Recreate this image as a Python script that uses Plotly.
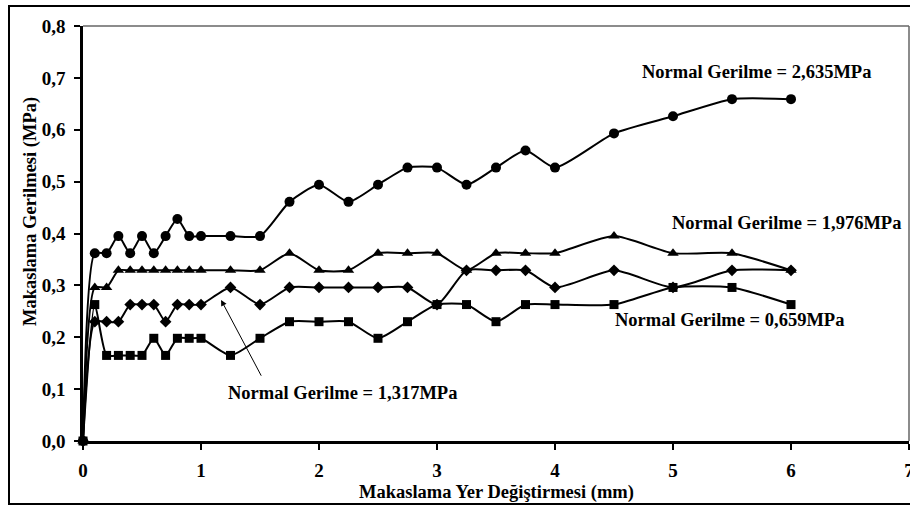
import plotly.graph_objects as go

# Shear displacement (mm) shared by every test
displacement = [0, 0.1, 0.2, 0.3, 0.4, 0.5, 0.6, 0.7, 0.8, 0.9, 1.0, 1.25, 1.5,
                1.75, 2.0, 2.25, 2.5, 2.75, 3.0, 3.25, 3.5, 3.75, 4.0, 4.5, 5.0, 5.5, 6.0]

# Shear stress (MPa) for each normal stress level
shear_2635 = [0, 0.362, 0.362, 0.395, 0.362, 0.395, 0.362, 0.395, 0.428, 0.395, 0.395,
              0.395, 0.395, 0.461, 0.494, 0.461, 0.494, 0.527, 0.527, 0.494, 0.527,
              0.560, 0.527, 0.593, 0.626, 0.659, 0.659]
shear_1976 = [0, 0.296, 0.296, 0.329, 0.329, 0.329, 0.329, 0.329, 0.329, 0.329, 0.329,
              0.329, 0.329, 0.362, 0.329, 0.329, 0.362, 0.362, 0.362, 0.329, 0.362,
              0.362, 0.362, 0.395, 0.362, 0.362, 0.329]
shear_1317 = [0, 0.230, 0.230, 0.230, 0.263, 0.263, 0.263, 0.230, 0.263, 0.263, 0.263,
              0.296, 0.263, 0.296, 0.296, 0.296, 0.296, 0.296, 0.263, 0.329, 0.329,
              0.329, 0.296, 0.329, 0.296, 0.329, 0.329]
shear_0659 = [0, 0.263, 0.165, 0.165, 0.165, 0.165, 0.198, 0.165, 0.198, 0.198, 0.198,
              0.165, 0.198, 0.230, 0.230, 0.230, 0.198, 0.230, 0.263, 0.263, 0.230,
              0.263, 0.263, 0.263, 0.296, 0.296, 0.263]

series = [
    ("Normal Gerilme = 2,635MPa", shear_2635, "circle", 10),
    ("Normal Gerilme = 1,976MPa", shear_1976, "triangle-up", 10),
    ("Normal Gerilme = 1,317MPa", shear_1317, "diamond", 9),
    ("Normal Gerilme = 0,659MPa", shear_0659, "square", 9),
]

FONT = "Liberation Serif, Times New Roman, serif"

fig = go.Figure()
for name, vals, sym, size in series:
    fig.add_trace(go.Scatter(
        x=displacement, y=vals, name=name, mode="lines+markers",
        line=dict(color="black", width=2, shape="spline", smoothing=0.6),
        marker=dict(symbol=sym, size=size, color="black"),
        cliponaxis=False, showlegend=False,
    ))

label_font = dict(family=FONT, size=18.5, color="black", weight="bold")

# Series labels
labels = [
    ("Normal Gerilme = 2,635MPa", 5.71, 0.712),
    ("Normal Gerilme = 1,976MPa", 5.96, 0.421),
    ("Normal Gerilme = 0,659MPa", 5.48, 0.233),
    ("Normal Gerilme = 1,317MPa", 2.195, 0.093),
]
for text, lx, ly in labels:
    fig.add_annotation(x=lx, y=ly, xref="x", yref="y", text=text, showarrow=False,
                       font=label_font, xanchor="center", yanchor="middle")

# Pointer to the 1,317 MPa curve
fig.add_annotation(x=1.17, y=0.272, xref="x", yref="y", ax=1.517, ay=0.123,
                   axref="x", ayref="y", text="", showarrow=True,
                   arrowhead=2, arrowsize=1.2, arrowwidth=1, arrowcolor="black")

# Axis titles
fig.add_annotation(x=(31 - 83) / 826, y=(441 - 212) / 415, xref="paper", yref="paper",
                   text="Makaslama Gerilmesi (MPa)", textangle=-90, showarrow=False,
                   font=label_font, xanchor="center", yanchor="middle")
fig.add_annotation(x=0.5, y=-(492 - 441) / 415, xref="paper", yref="paper",
                   text="Makaslama Yer Değiştirmesi (mm)", showarrow=False,
                   font=label_font, xanchor="center", yanchor="middle")

# Plot-area frame (top and right) and outer chart border
fig.add_shape(type="line", xref="paper", yref="paper", x0=0, x1=1, y0=1, y1=1,
              line=dict(color="#666666", width=1.5))
fig.add_shape(type="line", xref="paper", yref="paper", x0=1, x1=1, y0=0, y1=1,
              line=dict(color="#666666", width=1.5))
fig.add_shape(type="rect", xref="paper", yref="paper",
              x0=(9 - 83) / 826, x1=1.05, y0=-(504 - 441) / 415, y1=1 + (26 - 6) / 415,
              line=dict(color="black", width=2), fillcolor="rgba(0,0,0,0)")

tick_font = dict(family=FONT, size=19, color="black", weight="bold")

fig.update_xaxes(range=[0, 7], dtick=1, tick0=0, tickformat="d", automargin=False,
                 showgrid=False, zeroline=False, showline=True, linecolor="black",
                 linewidth=2.5, ticks="outside", ticklen=6, tickwidth=2, tickcolor="black",
                 tickfont=tick_font, ticklabelstandoff=4, ticklabeloverflow="allow")
fig.update_yaxes(range=[0, 0.8], dtick=0.1, tick0=0, tickformat=".1f", automargin=False,
                 showgrid=False, zeroline=False, showline=True, linecolor="black",
                 linewidth=2.5, ticks="outside", ticklen=6, tickwidth=2, tickcolor="black",
                 tickfont=tick_font, ticklabelstandoff=5, ticklabeloverflow="allow")

fig.update_layout(
    width=910, height=506,
    margin=dict(l=83, r=1, t=26, b=65, autoexpand=False),
    paper_bgcolor="white", plot_bgcolor="white",
    separators=",.",
    font=dict(family=FONT, color="black"),
)

fig.write_html("out.html")
